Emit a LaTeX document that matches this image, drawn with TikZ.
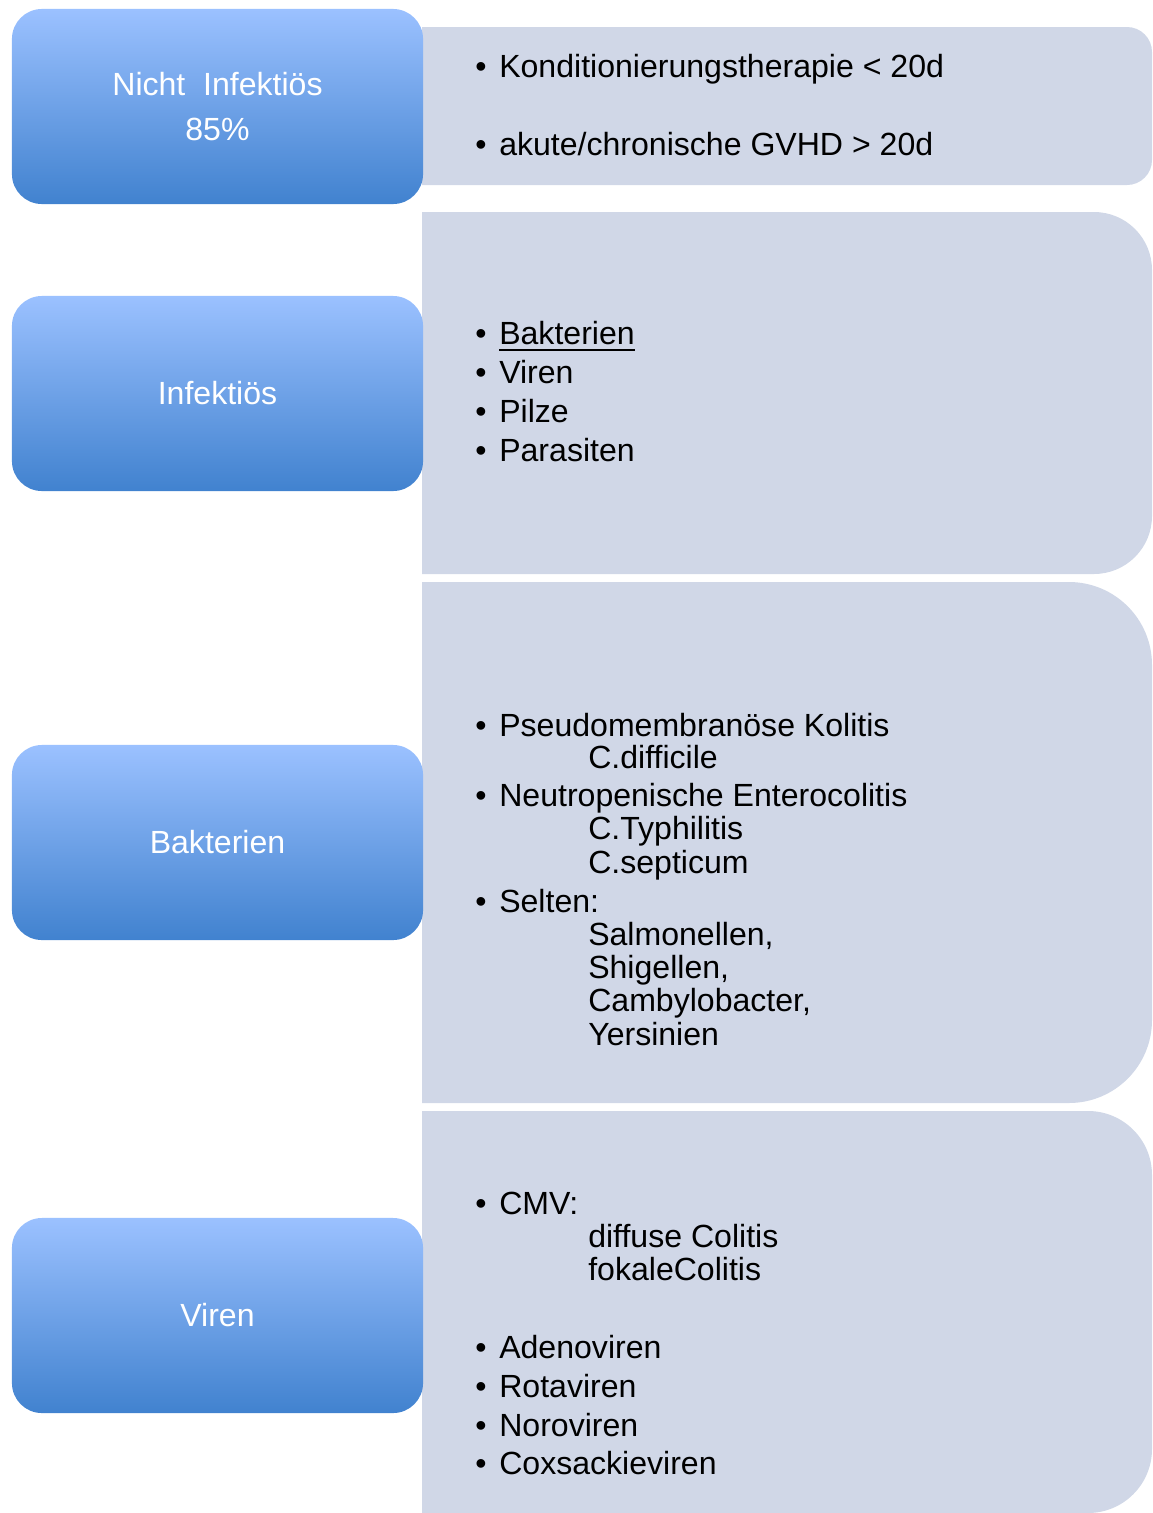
\documentclass[tikz,border=0pt]{standalone}
\usepackage{fontspec}
\setmainfont{Liberation Sans}
\usepackage{tikz}
\usetikzlibrary{positioning}
\definecolor{boxtop}{RGB}{155,193,255}
\definecolor{boxmid}{RGB}{126,169,238}
\definecolor{boxbottom}{RGB}{65,130,207}
\definecolor{listgrey}{RGB}{208,215,231}
\newcommand{\listfont}{\fontsize{22.8pt}{32pt}\selectfont}

\begin{document}
\begin{tikzpicture}[x=0.025cm, y=-0.025cm,
    cat/.style={rectangle, rounded corners=0.75cm, minimum width=10.275cm, minimum height=4.875cm,
                top color=boxtop, middle color=boxmid, bottom color=boxbottom,
                text=white, font=\listfont, align=center},
    entry/.style={anchor=base west, inner sep=0pt, font=\listfont},
    dot/.style={anchor=base, inner sep=0pt, font=\listfont}
]
\useasboundingbox (0,0) rectangle (1152,1513);

% grey list panels, square on the left, rounded on the right
\begin{scope}
  \clip (422,0) rectangle (1152,1513);
  \fill[listgrey, rounded corners=0.625cm] (300,27) rectangle (1152,185);
  \fill[listgrey, rounded corners=1.45cm] (300,212) rectangle (1152,574);
  \fill[listgrey, rounded corners=2.075cm] (300,582) rectangle (1152,1103);
  \fill[listgrey, rounded corners=1.6cm] (300,1111) rectangle (1152,1513);
\end{scope}

% category boxes
\node[cat] (nichtinf) at (217.5,106.5) {Nicht\ \ Infektiös\\85\%};
\node[cat] (inf) at (217.5,393.5) {Infektiös};
\node[cat] (bakt) at (217.5,842.5) {Bakterien};
\node[cat] (vir) at (217.5,1315.5) {Viren};

% bullets
\foreach \yy in {77,155,344,383,422,461,736.5,806.5,912,1214,1358,1397,1436,1474}
  \node[dot] (dot\yy) at (481,\yy) {•};

% Nicht infektioes
\node[entry] (n1) at (499,77) {Konditionierungstherapie < 20d};
\node[entry] (n2) at (499,155) {akute/chronische GVHD > 20d};

% Infektioes
\node[entry] (i1) at (499,344) {Bakterien};
\draw[line width=0.05cm] ([yshift=-0.15cm]i1.base west) -- ([yshift=-0.15cm]i1.base east);
\node[entry] (i2) at (499,383) {Viren};
\node[entry] (i3) at (499,422) {Pilze};
\node[entry] (i4) at (499,461) {Parasiten};

% Bakterien
\node[entry] (b1) at (499,736.5) {Pseudomembranöse Kolitis};
\node[entry] (b1a) at (588,768.5) {C.difficile};
\node[entry] (b2) at (499,806.5) {Neutropenische Enterocolitis};
\node[entry] (b2a) at (588,839.5) {C.Typhilitis};
\node[entry] (b2b) at (588,873) {C.septicum};
\node[entry] (b3) at (499,912) {Selten:};
\node[entry] (b3a) at (588,945) {Salmonellen,};
\node[entry] (b3b) at (588,978) {Shigellen,};
\node[entry] (b3c) at (588,1011.5) {Cambylobacter,};
\node[entry] (b3d) at (588,1045) {Yersinien};

% Viren
\node[entry] (v1) at (499,1214) {CMV:};
\node[entry] (v1a) at (588,1247) {diffuse Colitis};
\node[entry] (v1b) at (588,1280.5) {fokaleColitis};
\node[entry] (v2) at (499,1358) {Adenoviren};
\node[entry] (v3) at (499,1397) {Rotaviren};
\node[entry] (v4) at (499,1436) {Noroviren};
\node[entry] (v5) at (499,1474) {Coxsackieviren};

\end{tikzpicture}
\end{document}
